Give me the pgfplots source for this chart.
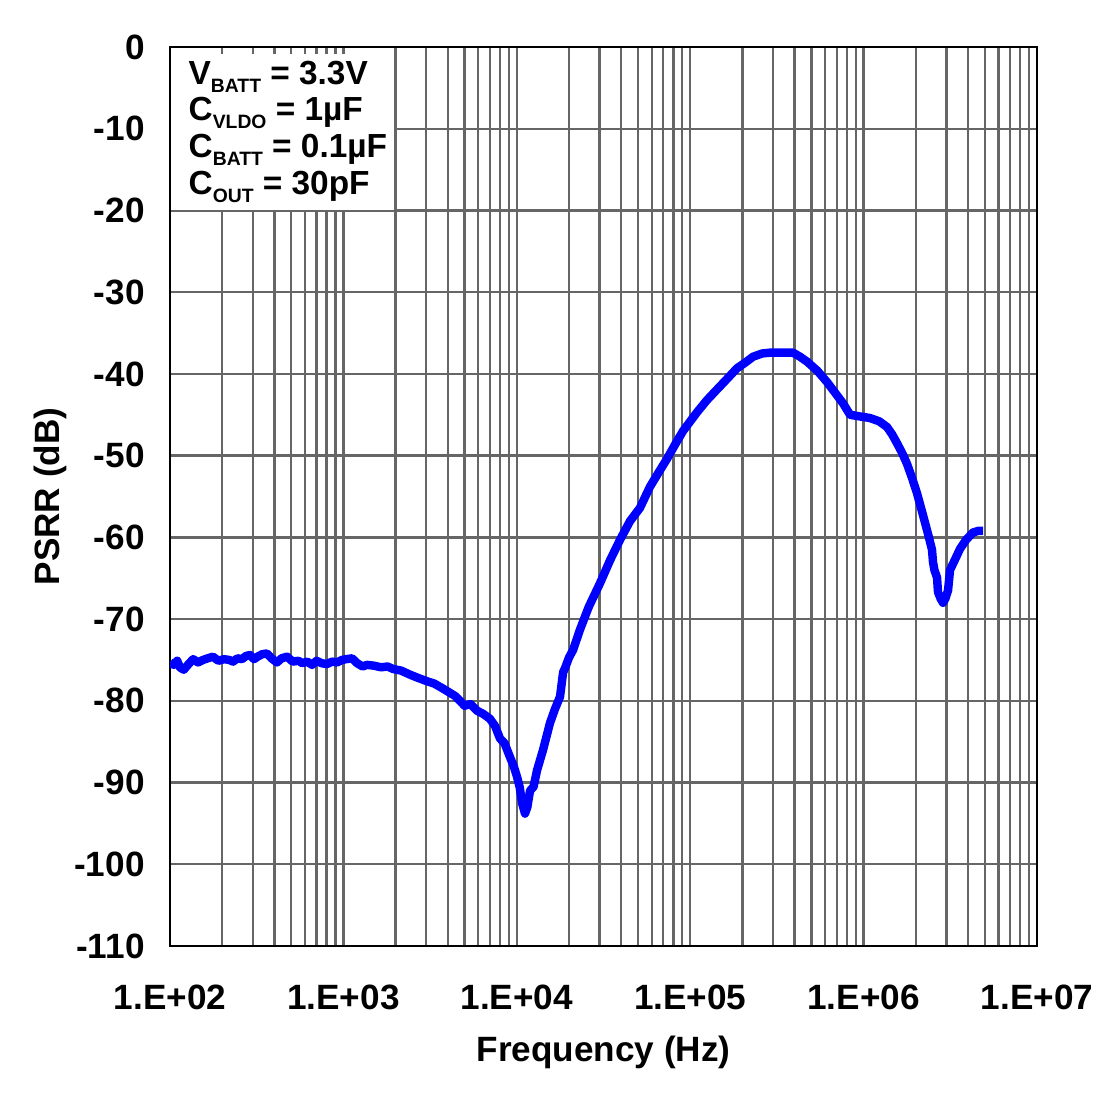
\documentclass[border=0pt]{standalone}
\usepackage{pgfplots}
\pgfplotsset{compat=1.18}
\usepackage{fontspec}
\setmainfont{Liberation Sans}
\newcommand\sub[1]{\raisebox{-2.3pt}{\fontsize{5.5}{6}\selectfont #1}}

\begin{document}
\begin{tikzpicture}
\begin{axis}[
    name=ax, at={(0,0)}, anchor=south west,
    scale only axis, width=8.67cm, height=8.99cm,
    xmode=log, xmin=1e2, xmax=1e7,
    ymin=-110, ymax=0,
    ytick={-110,-100,...,0},
    yticklabels={-110,-100,-90,-80,-70,-60,-50,-40,-30,-20,-10,0},
    xtick={1e2,1e3,1e4,1e5,1e6,1e7},
    xticklabels={1.E+02,1.E+03,1.E+04,1.E+05,1.E+06,1.E+07},
    minor xtick={200,300,400,500,600,700,800,900,
                 2000,3000,4000,5000,6000,7000,8000,9000,
                 2e4,3e4,4e4,5e4,6e4,7e4,8e4,9e4,
                 2e5,3e5,4e5,5e5,6e5,7e5,8e5,9e5,
                 2e6,3e6,4e6,5e6,6e6,7e6,8e6,9e6},
    xmajorgrids, xminorgrids, ymajorgrids,
    grid style={black!60, line width=0.65pt},
    minor grid style={black!60, line width=0.65pt},
    axis line style={black, line width=0.6pt},
    major tick length=0pt, minor tick length=0pt,
    tick label style={font=\fontsize{10}{12}\selectfont\bfseries},
    yticklabel style={xshift=-1.3mm},
    xticklabel style={yshift=-2.7mm},
    xlabel={Frequency (Hz)},
    ylabel={PSRR (dB)},
    every axis x label/.style={at={(axis description cs:0.5,-0.118)}, anchor=center,
        font=\fontsize{10}{12}\selectfont\bfseries},
    every axis y label/.style={at={(axis description cs:-0.138,0.5)}, anchor=center, rotate=90,
        font=\fontsize{10}{12}\selectfont\bfseries},
]
\addplot[blue, line width=2.4pt, line join=round] coordinates {
(100,-75.3)(105,-75.6)(110,-75.1)(114,-75.9)(120,-76.2)(128,-75.5)(136,-74.9)
(145,-75.3)(155,-75.0)(165,-74.8)(177,-74.6)(190,-75.1)(205,-74.9)(220,-75.0)
(231,-75.2)(245,-74.8)(260,-74.9)(275,-74.5)(289,-74.4)(305,-74.9)(320,-74.6)
(340,-74.3)(362,-74.2)(385,-74.8)(414,-75.3)(440,-74.8)(473,-74.6)(510,-75.2)
(550,-75.1)(580,-75.4)(617,-75.2)(660,-75.6)(700,-75.1)(750,-75.4)(804,-75.5)
(860,-75.2)(920,-75.3)(980,-75.0)(1040,-74.9)(1122,-74.8)(1200,-75.4)(1290,-75.8)
(1368,-75.6)(1500,-75.7)(1650,-75.9)(1800,-75.8)(1932,-76.1)(2150,-76.3)
(2422,-76.8)(2700,-77.2)(3034,-77.6)(3350,-77.9)(3750,-78.5)(4100,-79.0)
(4400,-79.4)(4699,-80.0)(5000,-80.6)(5400,-80.4)(5888,-81.2)(6400,-81.6)
(7000,-82.2)(7500,-83.1)(7997,-84.6)(8500,-85.2)(9140,-86.9)(9600,-88.0)
(10030,-89.3)(10400,-90.6)(10720,-92.5)(11150,-93.8)(11500,-93.0)(11920,-91.0)
(12500,-90.5)(13080,-88.5)(14170,-86.0)(15540,-82.7)(16600,-81.0)(17750,-79.5)
(18500,-76.5)(18970,-76.0)(20000,-74.7)(21090,-73.8)(23130,-71.3)(26000,-68.5)
(30200,-65.6)(34500,-62.8)(39370,-60.3)(45000,-58.0)(51300,-56.4)(58630,-53.8)
(66000,-52.0)(73470,-50.4)(82000,-48.6)(90820,-47.0)(109400,-44.7)(125000,-43.2)
(142800,-41.9)(165000,-40.5)(186300,-39.3)(205000,-38.7)(230200,-37.9)
(260000,-37.5)(288500,-37.4)(340000,-37.4)(391600,-37.4)(430000,-37.9)
(471800,-38.5)(540000,-39.6)(615200,-41.0)(690000,-42.4)(760700,-43.6)
(835000,-45.0)(950000,-45.2)(1089000,-45.4)(1230000,-45.8)(1365000,-46.5)
(1460000,-47.4)(1560000,-48.5)(1670000,-49.7)(1779000,-51.0)(1900000,-52.7)
(2032000,-54.6)(2150000,-56.5)(2260000,-58.2)(2380000,-60.0)(2479000,-61.5)
(2512000,-63.0)(2560000,-64.0)(2650000,-64.9)(2685000,-66.7)(2780000,-67.5)
(2869000,-68.0)(2960000,-67.5)(3068000,-66.5)(3150000,-64.0)(3350000,-62.8)
(3598000,-61.4)(3900000,-60.3)(4276000,-59.4)(4600000,-59.2)(4887000,-59.2)
};
% condition box
\fill[white] (axis cs:101,-0.86) rectangle (axis cs:1950,-19.9);
\node[anchor=north west, inner sep=0pt, align=left,
      font=\fontsize{9.5}{10.5}\selectfont\bfseries]
  at ([xshift=1.8mm,yshift=-1.3mm]rel axis cs:0,1)
  {V\sub{BATT} = 3.3V\\
   C\sub{VLDO} = 1µF\\
   C\sub{BATT} = 0.1µF\\
   C\sub{OUT} = 30pF};
\end{axis}
\pgfresetboundingbox
\path ([shift={(-1.7cm,-1.54cm)}]ax.south west) rectangle ([shift={(0.73cm,0.47cm)}]ax.north east);
\end{tikzpicture}
\end{document}
